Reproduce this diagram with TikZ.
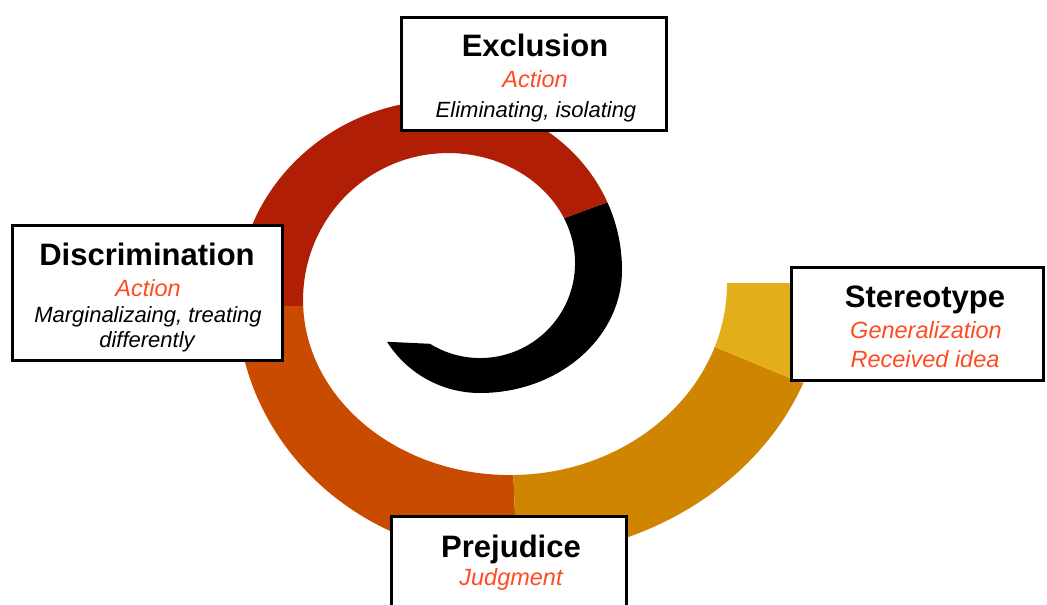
\documentclass[tikz,border=0pt]{standalone}
\usepackage{fontspec}
\setmainfont{Liberation Sans}
\definecolor{spRed}{HTML}{AF1E05}
\definecolor{spOrange}{HTML}{C84B00}
\definecolor{spGold}{HTML}{CF8500}
\definecolor{spYellow}{HTML}{E2AE1A}
\definecolor{txtRed}{HTML}{FF4B22}
\begin{document}
\begin{tikzpicture}[x=1pt,y=-1pt,
  box/.style={draw=black, line width=3pt, fill=white, inner sep=0pt},
  ttl/.style={font=\bfseries\fontsize{31}{31}\selectfont, anchor=base, inner sep=0pt},
  sub/.style={font=\itshape\fontsize{23.5}{24}\selectfont, text=txtRed, anchor=base, inner sep=0pt},
  desc/.style={font=\itshape\fontsize{22}{22}\selectfont, anchor=base, inner sep=0pt}]
\useasboundingbox (0,0) rectangle (1047,605);
\clip (0,0) rectangle (1047,605);
\path[save path=\bandpath]
  (825,283)
  arc[start angle=0,   end angle=90,    x radius=315, y radius=274]
  arc[start angle=90,  end angle=180,   x radius=273, y radius=257]
  arc[start angle=180, end angle=270,   x radius=208, y radius=200]
  arc[start angle=270, end angle=360,   x radius=177, y radius=170]
  arc[start angle=0,   end angle=90,    x radius=142, y radius=123]
  arc[start angle=90,  end angle=147.7, radius=110]
  -- (430,343.8)
  arc[start angle=121.8, end angle=90, radius=95]
  arc[start angle=90,  end angle=0,     radius=95]
  arc[start angle=360, end angle=270,   x radius=127, y radius=110]
  arc[start angle=270, end angle=180,   x radius=145, y radius=147]
  arc[start angle=180, end angle=90,    x radius=207, y radius=175]
  arc[start angle=90,  end angle=0,     x radius=217, y radius=192]
  -- cycle;
% black inner turn
\begin{scope}
  \clip (526,232) -- (649,187) -- (660,200) -- (670,328.5) -- (600,410) -- (512,440) -- (450,425) -- (380,390) -- (340,306) -- cycle;
  \fill[black, use path=\bandpath];
\end{scope}
% red
\begin{scope}
  \clip (100,306) -- (340,306) -- (526,232) -- (649,187) -- (700,0) -- (100,0) -- cycle;
  \fill[spRed, use path=\bandpath];
\end{scope}
% orange
\begin{scope}
  \clip (512,440) -- (520,640) -- (100,640) -- (100,306) -- (340,306) -- (380,390) -- (450,425) -- cycle;
  \fill[spOrange, use path=\bandpath];
\end{scope}
% gold
\begin{scope}
  \clip (670,328.5) -- (950,444) -- (1047,640) -- (520,640) -- (512,440) -- (600,410) -- cycle;
  \fill[spGold, use path=\bandpath];
\end{scope}
% yellow
\begin{scope}
  \clip (670,328.5) -- (950,444) -- (1047,444) -- (1047,200) -- (660,200) -- cycle;
  \fill[spYellow, use path=\bandpath];
\end{scope}
% boxes
\node[box, minimum width=265, minimum height=113] (exclbox) at (534,74) {};
\node[box, minimum width=270, minimum height=135] (discbox) at (147.5,293) {};
\node[box, minimum width=252, minimum height=113] (sterbox) at (917.5,324) {};
\node[box, minimum width=235, minimum height=113] (prejbox) at (509,573) {};
% texts
\node[ttl] (exclT) at (535,56) {Exclusion};
\node[sub] (exclA) at (535,87) {Action};
\node[desc] (exclD) at (536,117) {Eliminating, isolating};
\node[ttl] (discT) at (147,265) {Discrimination};
\node[sub] (discA) at (148,296) {Action};
\node[desc] (discD1) at (148,322) {Marginalizaing, treating};
\node[desc] (discD2) at (147,347) {differently};
\node[ttl] (sterT) at (925,307) {Stereotype};
\node[sub] (sterG) at (926,338) {Generalization};
\node[sub] (sterR) at (925,367) {Received idea};
\node[ttl] (prejT) at (511,557) {Prejudice};
\node[sub] (prejJ) at (511,585) {Judgment};
\end{tikzpicture}
\end{document}
